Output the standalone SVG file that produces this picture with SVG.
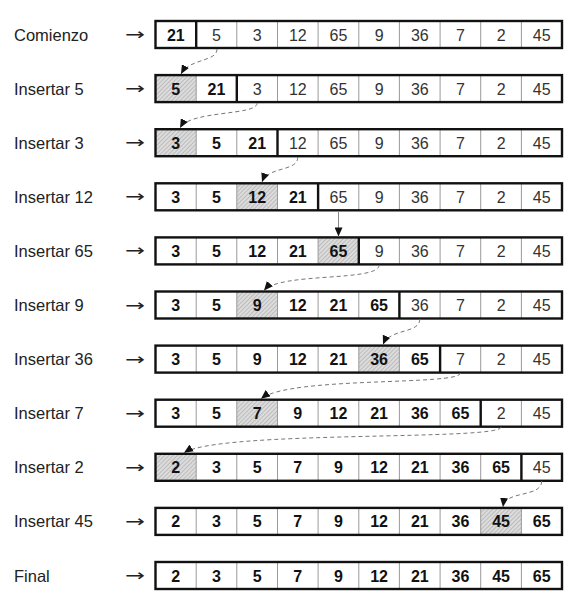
<svg xmlns="http://www.w3.org/2000/svg" xmlns:xlink="http://www.w3.org/1999/xlink" width="588" height="601" viewBox="0 0 588 601">
<style>
.bx{fill:none;stroke:#111;stroke-width:2.4}
.dv{fill:none;stroke:#9a9a9a;stroke-width:1}
.sp{stroke:#111;stroke-width:2.4}
.n{font-family:"Liberation Sans",Arial,sans-serif;font-size:16px;fill:#333;text-anchor:middle}
.b{font-weight:bold;fill:#111}
.lb{font-family:"Liberation Sans",Arial,sans-serif;font-size:16.5px;fill:#222}
.ar{font-family:"DejaVu Sans",sans-serif;font-size:16px;fill:#222}
.hc{fill:url(#hatch)}
.cn{fill:none;stroke:#777;stroke-width:1;stroke-dasharray:4 3}
.cs{fill:none;stroke:#888;stroke-width:1}
</style>
<defs>
<pattern id="hatch" width="3" height="3" patternUnits="userSpaceOnUse" patternTransform="rotate(45)">
<rect width="3" height="3" fill="#dcdcdc"/>
<line x1="0" y1="0" x2="0" y2="3" stroke="#9c9c9c" stroke-width="1"/>
</pattern>
<path id="grid" class="dv" d="M196.2,0V27M236.8,0V27M277.5,0V27M318.1,0V27M358.8,0V27M399.4,0V27M440.1,0V27M480.7,0V27M521.4,0V27"/>
<rect id="box" class="bx" x="155.5" y="0" width="406.5" height="27"/>
<marker id="ah" markerUnits="userSpaceOnUse" markerWidth="9" markerHeight="8" refX="9" refY="4" orient="auto">
<path d="M0,0L9,4L0,8z" fill="#111"/>
</marker>
</defs>

<g id="row0">
<text class="lb" x="14" y="40.5">Comienzo</text>
<text class="ar" x="125" y="40" textLength="20" lengthAdjust="spacingAndGlyphs">→</text>
<use xlink:href="#grid" y="21"/>
<line class="sp" x1="196.2" y1="21" x2="196.2" y2="48"/>
<use xlink:href="#box" y="21"/>
<text class="n b" x="175.8" y="40.5">21</text>
<text class="n" x="216.5" y="40.5">5</text>
<text class="n" x="257.2" y="40.5">3</text>
<text class="n" x="297.8" y="40.5">12</text>
<text class="n" x="338.5" y="40.5">65</text>
<text class="n" x="379.1" y="40.5">9</text>
<text class="n" x="419.8" y="40.5">36</text>
<text class="n" x="460.4" y="40.5">7</text>
<text class="n" x="501.1" y="40.5">2</text>
<text class="n" x="541.7" y="40.5">45</text>
</g>

<g id="row1">
<text class="lb" x="14" y="94.6">Insertar 5</text>
<text class="ar" x="125" y="94.1" textLength="20" lengthAdjust="spacingAndGlyphs">→</text>
<rect class="hc" x="155.5" y="75.1" width="40.7" height="27"/>
<use xlink:href="#grid" y="75.1"/>
<line class="sp" x1="236.8" y1="75.1" x2="236.8" y2="102.1"/>
<use xlink:href="#box" y="75.1"/>
<text class="n b" x="175.8" y="94.6">5</text>
<text class="n b" x="216.5" y="94.6">21</text>
<text class="n" x="257.2" y="94.6">3</text>
<text class="n" x="297.8" y="94.6">12</text>
<text class="n" x="338.5" y="94.6">65</text>
<text class="n" x="379.1" y="94.6">9</text>
<text class="n" x="419.8" y="94.6">36</text>
<text class="n" x="460.4" y="94.6">7</text>
<text class="n" x="501.1" y="94.6">2</text>
<text class="n" x="541.7" y="94.6">45</text>
</g>

<g id="row2">
<text class="lb" x="14" y="148.7">Insertar 3</text>
<text class="ar" x="125" y="148.2" textLength="20" lengthAdjust="spacingAndGlyphs">→</text>
<rect class="hc" x="155.5" y="129.2" width="40.7" height="27"/>
<use xlink:href="#grid" y="129.2"/>
<line class="sp" x1="277.5" y1="129.2" x2="277.5" y2="156.2"/>
<use xlink:href="#box" y="129.2"/>
<text class="n b" x="175.8" y="148.7">3</text>
<text class="n b" x="216.5" y="148.7">5</text>
<text class="n b" x="257.2" y="148.7">21</text>
<text class="n" x="297.8" y="148.7">12</text>
<text class="n" x="338.5" y="148.7">65</text>
<text class="n" x="379.1" y="148.7">9</text>
<text class="n" x="419.8" y="148.7">36</text>
<text class="n" x="460.4" y="148.7">7</text>
<text class="n" x="501.1" y="148.7">2</text>
<text class="n" x="541.7" y="148.7">45</text>
</g>

<g id="row3">
<text class="lb" x="14" y="202.8">Insertar 12</text>
<text class="ar" x="125" y="202.3" textLength="20" lengthAdjust="spacingAndGlyphs">→</text>
<rect class="hc" x="236.8" y="183.3" width="40.7" height="27"/>
<use xlink:href="#grid" y="183.3"/>
<line class="sp" x1="318.1" y1="183.3" x2="318.1" y2="210.3"/>
<use xlink:href="#box" y="183.3"/>
<text class="n b" x="175.8" y="202.8">3</text>
<text class="n b" x="216.5" y="202.8">5</text>
<text class="n b" x="257.2" y="202.8">12</text>
<text class="n b" x="297.8" y="202.8">21</text>
<text class="n" x="338.5" y="202.8">65</text>
<text class="n" x="379.1" y="202.8">9</text>
<text class="n" x="419.8" y="202.8">36</text>
<text class="n" x="460.4" y="202.8">7</text>
<text class="n" x="501.1" y="202.8">2</text>
<text class="n" x="541.7" y="202.8">45</text>
</g>

<g id="row4">
<text class="lb" x="14" y="256.9">Insertar 65</text>
<text class="ar" x="125" y="256.4" textLength="20" lengthAdjust="spacingAndGlyphs">→</text>
<rect class="hc" x="318.1" y="237.4" width="40.7" height="27"/>
<use xlink:href="#grid" y="237.4"/>
<line class="sp" x1="358.8" y1="237.4" x2="358.8" y2="264.4"/>
<use xlink:href="#box" y="237.4"/>
<text class="n b" x="175.8" y="256.9">3</text>
<text class="n b" x="216.5" y="256.9">5</text>
<text class="n b" x="257.2" y="256.9">12</text>
<text class="n b" x="297.8" y="256.9">21</text>
<text class="n b" x="338.5" y="256.9">65</text>
<text class="n" x="379.1" y="256.9">9</text>
<text class="n" x="419.8" y="256.9">36</text>
<text class="n" x="460.4" y="256.9">7</text>
<text class="n" x="501.1" y="256.9">2</text>
<text class="n" x="541.7" y="256.9">45</text>
</g>

<g id="row5">
<text class="lb" x="14" y="311">Insertar 9</text>
<text class="ar" x="125" y="310.5" textLength="20" lengthAdjust="spacingAndGlyphs">→</text>
<rect class="hc" x="236.8" y="291.5" width="40.7" height="27"/>
<use xlink:href="#grid" y="291.5"/>
<line class="sp" x1="399.4" y1="291.5" x2="399.4" y2="318.5"/>
<use xlink:href="#box" y="291.5"/>
<text class="n b" x="175.8" y="311">3</text>
<text class="n b" x="216.5" y="311">5</text>
<text class="n b" x="257.2" y="311">9</text>
<text class="n b" x="297.8" y="311">12</text>
<text class="n b" x="338.5" y="311">21</text>
<text class="n b" x="379.1" y="311">65</text>
<text class="n" x="419.8" y="311">36</text>
<text class="n" x="460.4" y="311">7</text>
<text class="n" x="501.1" y="311">2</text>
<text class="n" x="541.7" y="311">45</text>
</g>

<g id="row6">
<text class="lb" x="14" y="365.1">Insertar 36</text>
<text class="ar" x="125" y="364.6" textLength="20" lengthAdjust="spacingAndGlyphs">→</text>
<rect class="hc" x="358.8" y="345.6" width="40.7" height="27"/>
<use xlink:href="#grid" y="345.6"/>
<line class="sp" x1="440.1" y1="345.6" x2="440.1" y2="372.6"/>
<use xlink:href="#box" y="345.6"/>
<text class="n b" x="175.8" y="365.1">3</text>
<text class="n b" x="216.5" y="365.1">5</text>
<text class="n b" x="257.2" y="365.1">9</text>
<text class="n b" x="297.8" y="365.1">12</text>
<text class="n b" x="338.5" y="365.1">21</text>
<text class="n b" x="379.1" y="365.1">36</text>
<text class="n b" x="419.8" y="365.1">65</text>
<text class="n" x="460.4" y="365.1">7</text>
<text class="n" x="501.1" y="365.1">2</text>
<text class="n" x="541.7" y="365.1">45</text>
</g>

<g id="row7">
<text class="lb" x="14" y="419.2">Insertar 7</text>
<text class="ar" x="125" y="418.7" textLength="20" lengthAdjust="spacingAndGlyphs">→</text>
<rect class="hc" x="236.8" y="399.7" width="40.7" height="27"/>
<use xlink:href="#grid" y="399.7"/>
<line class="sp" x1="480.7" y1="399.7" x2="480.7" y2="426.7"/>
<use xlink:href="#box" y="399.7"/>
<text class="n b" x="175.8" y="419.2">3</text>
<text class="n b" x="216.5" y="419.2">5</text>
<text class="n b" x="257.2" y="419.2">7</text>
<text class="n b" x="297.8" y="419.2">9</text>
<text class="n b" x="338.5" y="419.2">12</text>
<text class="n b" x="379.1" y="419.2">21</text>
<text class="n b" x="419.8" y="419.2">36</text>
<text class="n b" x="460.4" y="419.2">65</text>
<text class="n" x="501.1" y="419.2">2</text>
<text class="n" x="541.7" y="419.2">45</text>
</g>

<g id="row8">
<text class="lb" x="14" y="473.3">Insertar 2</text>
<text class="ar" x="125" y="472.8" textLength="20" lengthAdjust="spacingAndGlyphs">→</text>
<rect class="hc" x="155.5" y="453.8" width="40.7" height="27"/>
<use xlink:href="#grid" y="453.8"/>
<line class="sp" x1="521.4" y1="453.8" x2="521.4" y2="480.8"/>
<use xlink:href="#box" y="453.8"/>
<text class="n b" x="175.8" y="473.3">2</text>
<text class="n b" x="216.5" y="473.3">3</text>
<text class="n b" x="257.2" y="473.3">5</text>
<text class="n b" x="297.8" y="473.3">7</text>
<text class="n b" x="338.5" y="473.3">9</text>
<text class="n b" x="379.1" y="473.3">12</text>
<text class="n b" x="419.8" y="473.3">21</text>
<text class="n b" x="460.4" y="473.3">36</text>
<text class="n b" x="501.1" y="473.3">65</text>
<text class="n" x="541.7" y="473.3">45</text>
</g>

<g id="row9">
<text class="lb" x="14" y="527.4">Insertar 45</text>
<text class="ar" x="125" y="526.9" textLength="20" lengthAdjust="spacingAndGlyphs">→</text>
<rect class="hc" x="480.7" y="507.9" width="40.7" height="27"/>
<use xlink:href="#grid" y="507.9"/>
<use xlink:href="#box" y="507.9"/>
<text class="n b" x="175.8" y="527.4">2</text>
<text class="n b" x="216.5" y="527.4">3</text>
<text class="n b" x="257.2" y="527.4">5</text>
<text class="n b" x="297.8" y="527.4">7</text>
<text class="n b" x="338.5" y="527.4">9</text>
<text class="n b" x="379.1" y="527.4">12</text>
<text class="n b" x="419.8" y="527.4">21</text>
<text class="n b" x="460.4" y="527.4">36</text>
<text class="n b" x="501.1" y="527.4">45</text>
<text class="n b" x="541.7" y="527.4">65</text>
</g>

<g id="row10">
<text class="lb" x="14" y="581.5">Final</text>
<text class="ar" x="125" y="581" textLength="20" lengthAdjust="spacingAndGlyphs">→</text>
<use xlink:href="#grid" y="562"/>
<use xlink:href="#box" y="562"/>
<text class="n b" x="175.8" y="581.5">2</text>
<text class="n b" x="216.5" y="581.5">3</text>
<text class="n b" x="257.2" y="581.5">5</text>
<text class="n b" x="297.8" y="581.5">7</text>
<text class="n b" x="338.5" y="581.5">9</text>
<text class="n b" x="379.1" y="581.5">12</text>
<text class="n b" x="419.8" y="581.5">21</text>
<text class="n b" x="460.4" y="581.5">36</text>
<text class="n b" x="501.1" y="581.5">45</text>
<text class="n b" x="541.7" y="581.5">65</text>
</g>

<g id="connectors">
<path class="cn" marker-end="url(#ah)" d="M217,49 C217,62 190,58 181,74"/>
<path class="cn" marker-end="url(#ah)" d="M257.2,103 C257,116 190,110 180,128"/>
<path class="cn" marker-end="url(#ah)" d="M297.8,157 C297.8,172 268,166 262,182"/>
<path class="cs" marker-end="url(#ah)" d="M338.5,211 V236.4"/>
<path class="cn" marker-end="url(#ah)" d="M379.1,265 C379,282 280,272 264,290.5"/>
<path class="cn" marker-end="url(#ah)" d="M419.8,319 C419.8,334 390,328 383,344.6"/>
<path class="cn" marker-end="url(#ah)" d="M460.4,373 C460,386 290,376 261,398.7"/>
<path class="cn" marker-end="url(#ah)" d="M501.1,427 C501,441 220,430 184,452.8"/>
<path class="cn" marker-end="url(#ah)" d="M541.7,481 C541.7,498 505,490 503,506.9"/>
</g>
</svg>
